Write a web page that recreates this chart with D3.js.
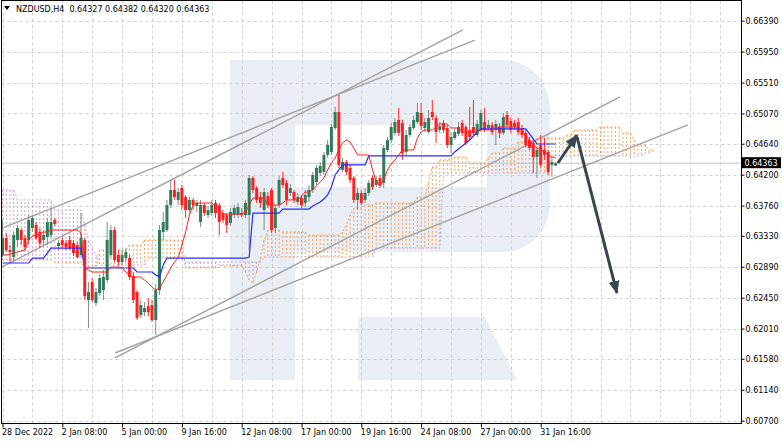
<!DOCTYPE html>
<html><head><meta charset="utf-8">
<script src="https://cdn.jsdelivr.net/npm/d3@7"></script>
<style>
body{margin:0;background:#fff;}
svg{display:block;font-family:"DejaVu Sans",Verdana,sans-serif;}
</style>
</head><body>
<svg id="c" width="782" height="442"></svg>
<script>
// ---------- data ----------
const symbolName = "NZDUSD,H4";
const lastQuote = [0.64327, 0.64382, 0.64320, 0.64363]; // O H L C of last bar
const priceTicks = [0.66390,0.65950,0.65510,0.65070,0.64640,0.64200,0.63760,0.63330,0.62890,0.62450,0.62010,0.61580,0.61140,0.60700];
const timeLabels = ["28 Dec 2022","2 Jan 08:00","5 Jan 00:00","9 Jan 16:00","12 Jan 08:00","17 Jan 00:00","19 Jan 16:00","24 Jan 08:00","27 Jan 00:00","31 Jan 16:00"];
const timeLabelBars = [0,16,32,48,64,80,96,112,128,144];

const open = [
0.63057,0.63299,0.63128,0.63028,0.63270,0.63412,0.63299,0.63270,0.63441,0.63484,
0.63384,0.63270,0.63313,0.63341,0.63555,0.63185,0.63270,0.63227,0.63270,0.63227,
0.63199,0.63057,0.63270,0.62416,0.62672,0.62373,0.62516,0.62558,0.62701,0.63057,
0.63412,0.63057,0.62957,0.63014,0.63014,0.62758,0.62530,0.62203,0.62245,0.62331,
0.62345,0.62132,0.62558,0.63384,0.63412,0.63768,0.63982,0.63840,0.64010,0.63882,
0.63697,0.63840,0.63754,0.63526,0.63768,0.63626,0.63654,0.63797,0.63768,0.63654,
0.63626,0.63512,0.63626,0.63626,0.63654,0.63626,0.63626,0.64153,0.64010,0.63882,
0.63697,0.63896,0.63982,0.63441,0.63768,0.64153,0.64082,0.63939,0.63953,0.63811,
0.63868,0.63797,0.63882,0.63982,0.64096,0.64224,0.64238,0.64480,0.64523,0.64864,
0.65091,0.64267,0.64380,0.64295,0.64153,0.63840,0.63939,0.63840,0.63939,0.64153,
0.64053,0.64153,0.64082,0.64551,0.64693,0.64793,0.64978,0.64935,0.64523,0.64764,
0.64864,0.64949,0.65077,0.64864,0.64807,0.65091,0.65006,0.64836,0.64935,0.64864,
0.64622,0.64722,0.64779,0.64935,0.64878,0.64836,0.64878,0.64764,0.64836,0.64949,
0.64864,0.64907,0.64836,0.64878,0.64793,0.65049,0.64964,0.64935,0.64949,0.64864,
0.64793,0.64693,0.64651,0.64452,0.64622,0.64551,0.64523,0.64338,0.64327];
const high = [
0.63555,0.63370,0.63199,0.63384,0.63484,0.63441,0.63341,0.63626,0.63612,0.63526,
0.63441,0.63412,0.63583,0.63726,0.63583,0.63270,0.63299,0.63270,0.63327,0.63270,
0.63242,0.63654,0.63299,0.62672,0.62729,0.62587,0.62786,0.62843,0.63526,0.63484,
0.63455,0.63128,0.63128,0.63156,0.63057,0.62815,0.62558,0.62416,0.62388,0.62445,
0.62416,0.62644,0.63484,0.63669,0.63840,0.64124,0.64124,0.64010,0.64053,0.63911,
0.63896,0.63868,0.63840,0.63840,0.63797,0.63754,0.63840,0.63840,0.63797,0.63697,
0.63654,0.63726,0.63768,0.63797,0.63726,0.63840,0.64195,0.64181,0.64039,0.63953,
0.64010,0.63953,0.64010,0.63768,0.64181,0.64238,0.64124,0.64067,0.63982,0.63939,
0.63911,0.63982,0.64053,0.64238,0.64338,0.64380,0.64523,0.64693,0.64921,0.65163,
0.65333,0.64437,0.64409,0.64338,0.64181,0.64010,0.63982,0.64010,0.64124,0.64195,
0.64181,0.64195,0.64622,0.64736,0.64935,0.65006,0.65148,0.64978,0.64836,0.64921,
0.65035,0.65219,0.65219,0.65006,0.65120,0.65262,0.65049,0.64949,0.64978,0.64907,
0.64807,0.64864,0.64949,0.64978,0.64907,0.65163,0.65262,0.64978,0.65120,0.65148,
0.64978,0.64949,0.64978,0.64935,0.65077,0.65106,0.65006,0.64978,0.65006,0.64907,
0.64836,0.64736,0.64693,0.64580,0.64764,0.64722,0.64551,0.64437,0.64382];
const low = [
0.63028,0.63099,0.62957,0.62957,0.63171,0.63199,0.63128,0.63199,0.63384,0.63270,
0.63156,0.63199,0.63199,0.63299,0.63469,0.63128,0.63156,0.63128,0.63128,0.63042,
0.63014,0.63028,0.62416,0.62018,0.62388,0.62331,0.62473,0.62416,0.62658,0.63014,
0.62957,0.62900,0.62914,0.62957,0.62701,0.62373,0.62132,0.62160,0.62188,0.62188,
0.62103,0.61919,0.62487,0.63270,0.63384,0.63726,0.63840,0.63768,0.63697,0.63583,
0.63640,0.63697,0.63669,0.63455,0.63612,0.63583,0.63612,0.63583,0.63341,0.63512,
0.63370,0.63469,0.63583,0.63583,0.63597,0.63583,0.63128,0.63939,0.63797,0.63726,
0.63412,0.63726,0.63370,0.63370,0.63726,0.64010,0.63768,0.63896,0.63797,0.63768,
0.63726,0.63740,0.63811,0.63939,0.64053,0.64181,0.64195,0.64437,0.64480,0.64836,
0.64295,0.64238,0.64195,0.64082,0.63797,0.63697,0.63768,0.63797,0.63896,0.63982,
0.64025,0.64010,0.64010,0.64523,0.64651,0.64750,0.64750,0.64409,0.64480,0.64736,
0.64836,0.64921,0.64836,0.64807,0.64779,0.64978,0.64651,0.64793,0.64793,0.64580,
0.64508,0.64693,0.64750,0.64750,0.64622,0.64693,0.64764,0.64736,0.64807,0.64807,
0.64836,0.64764,0.64622,0.64722,0.64764,0.64864,0.64793,0.64836,0.64764,0.64722,
0.64594,0.64551,0.64224,0.64153,0.64309,0.64409,0.64195,0.64167,0.64320];
const close = [
0.63299,0.63128,0.63099,0.63341,0.63441,0.63270,0.63171,0.63555,0.63583,0.63299,
0.63227,0.63341,0.63526,0.63526,0.63498,0.63227,0.63199,0.63171,0.63156,0.63085,
0.63028,0.63299,0.62473,0.62530,0.62416,0.62530,0.62729,0.62744,0.63270,0.63412,
0.62986,0.62957,0.63057,0.63099,0.62744,0.62416,0.62160,0.62345,0.62302,0.62245,
0.62132,0.62558,0.63412,0.63526,0.63768,0.63982,0.63882,0.63953,0.63768,0.63697,
0.63840,0.63768,0.63797,0.63768,0.63654,0.63697,0.63768,0.63654,0.63526,0.63555,
0.63484,0.63669,0.63726,0.63740,0.63626,0.63797,0.64153,0.63982,0.63840,0.63797,
0.63953,0.63768,0.63412,0.63726,0.64124,0.64053,0.63840,0.64010,0.63840,0.63882,
0.63768,0.63911,0.63982,0.64195,0.64295,0.64323,0.64480,0.64622,0.64878,0.65091,
0.64338,0.64380,0.64238,0.64124,0.63840,0.63939,0.63797,0.63939,0.64082,0.64025,
0.64124,0.64053,0.64580,0.64693,0.64878,0.64949,0.64793,0.64508,0.64764,0.64878,
0.64978,0.65091,0.64892,0.64949,0.65006,0.65020,0.64807,0.64892,0.64836,0.64622,
0.64736,0.64807,0.64878,0.64793,0.64651,0.64736,0.64793,0.64921,0.65077,0.64836,
0.64907,0.64807,0.64921,0.64793,0.65020,0.64907,0.64836,0.64878,0.64807,0.64764,
0.64622,0.64580,0.64452,0.64551,0.64338,0.64480,0.64238,0.64380,0.64363];

// Ichimoku: Tenkan-sen (red), Kijun-sen (blue)
const tenkan = [
0.63057,0.63057,0.63071,0.63085,0.63099,0.63114,0.63128,0.63270,0.63327,0.63341,
0.63356,0.63384,0.63384,0.63412,0.63412,0.63412,0.63412,0.63412,0.63412,0.63412,
0.63412,0.63370,0.62872,0.62843,0.62815,0.62815,0.62815,0.62815,0.62815,0.62886,
0.62886,0.62886,0.62872,0.62815,0.62772,0.62744,0.62744,0.62744,0.62701,0.62658,
0.62601,0.62558,0.62587,0.62672,0.62772,0.62872,0.62957,0.63014,0.63199,0.63384,
0.63626,0.63768,0.63797,0.63797,0.63797,0.63797,0.63797,0.63754,0.63697,0.63640,
0.63640,0.63640,0.63640,0.63640,0.63640,0.63669,0.63768,0.63868,0.63868,0.63868,
0.63868,0.63768,0.63768,0.63768,0.63768,0.63797,0.63840,0.63840,0.63840,0.63840,
0.63896,0.63953,0.63953,0.63982,0.64039,0.64096,0.64153,0.64267,0.64366,0.64437,
0.64551,0.64651,0.64693,0.64665,0.64580,0.64480,0.64480,0.64480,0.64480,0.64267,
0.64096,0.64039,0.64124,0.64267,0.64352,0.64409,0.64480,0.64551,0.64551,0.64551,
0.64551,0.64722,0.64807,0.64836,0.64836,0.64836,0.64878,0.64921,0.64921,0.64921,
0.64864,0.64864,0.64864,0.64807,0.64807,0.64807,0.64807,0.64807,0.64836,0.64836,
0.64836,0.64836,0.64878,0.64878,0.64878,0.64878,0.64878,0.64878,0.64878,0.64836,
0.64750,0.64693,0.64622,0.64580,0.64551,0.64523,0.64480,0.64452,0.64437];
const kijun = [
0.62943,0.62943,0.62943,0.62943,0.62943,0.62943,0.62943,0.62943,0.63014,0.63014,
0.63014,0.63014,0.63085,0.63156,0.63156,0.63156,0.63156,0.63156,0.63156,0.63156,
0.63156,0.63156,0.62872,0.62872,0.62872,0.62872,0.62872,0.62872,0.62872,0.62872,
0.62872,0.62872,0.62872,0.62872,0.62872,0.62872,0.62815,0.62815,0.62815,0.62815,
0.62815,0.62772,0.62744,0.62914,0.63014,0.63014,0.63014,0.63014,0.63014,0.63014,
0.63014,0.63014,0.63014,0.63014,0.63014,0.63014,0.63014,0.63014,0.63014,0.63014,
0.63014,0.63014,0.63014,0.63014,0.63014,0.63014,0.63028,0.63654,0.63654,0.63654,
0.63654,0.63654,0.63654,0.63654,0.63654,0.63711,0.63711,0.63711,0.63711,0.63711,
0.63711,0.63711,0.63711,0.63754,0.63783,0.63811,0.63854,0.63911,0.64025,0.64195,
0.64267,0.64338,0.64338,0.64338,0.64338,0.64338,0.64338,0.64338,0.64466,0.64466,
0.64466,0.64466,0.64466,0.64466,0.64466,0.64466,0.64466,0.64466,0.64466,0.64466,
0.64466,0.64466,0.64466,0.64466,0.64466,0.64466,0.64466,0.64466,0.64466,0.64466,
0.64466,0.64523,0.64565,0.64608,0.64651,0.64693,0.64750,0.64807,0.64850,0.64850,
0.64850,0.64850,0.64850,0.64850,0.64850,0.64850,0.64850,0.64850,0.64850,0.64850,
0.64850,0.64779,0.64708,0.64636,0.64636,0.64636,0.64636,0.64636,0.64636];
// Senkou spans (already shifted 26 bars forward)
const spanA = [
0.62986,0.62986,0.62986,0.62986,0.62986,0.62986,0.62986,0.62986,0.62986,0.62986,
0.62986,0.62986,0.62986,0.62986,0.62943,0.62943,0.62943,0.62943,0.62943,0.62943,
0.62943,0.62943,0.62886,0.62886,0.62886,0.62886,0.63128,0.63128,0.63128,0.63128,
0.63128,0.63128,0.63128,0.63128,0.63199,0.63199,0.63199,0.63199,0.63270,0.63270,
0.63270,0.63270,0.63270,0.63270,0.63270,0.63270,0.63270,0.63270,0.63270,0.62872,
0.62872,0.62872,0.62872,0.62872,0.62872,0.62872,0.62872,0.62872,0.62900,0.62900,
0.62900,0.62900,0.62900,0.62900,0.62900,0.62815,0.62701,0.62658,0.62815,0.63028,
0.63270,0.63412,0.63412,0.63412,0.63412,0.63384,0.63384,0.63384,0.63384,0.63384,
0.63384,0.63384,0.63341,0.63341,0.63341,0.63341,0.63341,0.63341,0.63341,0.63341,
0.63341,0.63384,0.63484,0.63626,0.63726,0.63726,0.63726,0.63768,0.63768,0.63768,
0.63797,0.63797,0.63797,0.63797,0.63797,0.63797,0.63797,0.63797,0.63797,0.63797,
0.63797,0.63882,0.63882,0.63882,0.64082,0.64309,0.64309,0.64409,0.64409,0.64409,
0.64409,0.64452,0.64452,0.64452,0.64452,0.64366,0.64366,0.64366,0.64366,0.64366,
0.64437,0.64508,0.64508,0.64508,0.64580,0.64580,0.64580,0.64580,0.64665,0.64665,
0.64665,0.64665,0.64665,0.64722,0.64722,0.64722,0.64722,0.64722,0.64722,0.64722,
0.64722,0.64764,0.64764,0.64836,0.64836,0.64836,0.64836,0.64836,0.64836,0.64836,
0.64878,0.64878,0.64878,0.64878,0.64878,0.64878,0.64793,0.64793,0.64793,0.64693,
0.64622,0.64622,0.64622,0.64551,0.64551];
const spanB = [
0.63982,0.63982,0.63982,0.63982,0.63840,0.63840,0.63840,0.63840,0.63840,0.63840,
0.63840,0.63840,0.63840,0.63840,0.63697,0.63697,0.63697,0.63697,0.63697,0.63697,
0.63697,0.63697,0.63484,0.63270,0.63156,0.63057,0.62914,0.62914,0.62914,0.62914,
0.62914,0.62914,0.62914,0.62914,0.62914,0.62914,0.62914,0.62914,0.62914,0.63014,
0.63014,0.63014,0.63014,0.63014,0.63014,0.63014,0.63014,0.63014,0.63014,0.62957,
0.62957,0.62957,0.62957,0.62957,0.62957,0.62957,0.62957,0.62957,0.62957,0.62957,
0.62957,0.62957,0.62957,0.62957,0.62957,0.62957,0.62957,0.62957,0.62957,0.62957,
0.63028,0.63028,0.63028,0.63028,0.63028,0.63028,0.63028,0.63028,0.63028,0.63028,
0.63028,0.63028,0.63028,0.63028,0.63028,0.63028,0.63028,0.63028,0.63028,0.63028,
0.63028,0.63028,0.63028,0.63028,0.63028,0.63028,0.63028,0.63028,0.63028,0.63028,
0.63156,0.63156,0.63156,0.63156,0.63156,0.63156,0.63156,0.63156,0.63156,0.63156,
0.63156,0.63156,0.63156,0.63156,0.63156,0.63156,0.63156,0.63156,0.64224,0.64224,
0.64224,0.64224,0.64224,0.64224,0.64224,0.64224,0.64224,0.64224,0.64224,0.64224,
0.64224,0.64224,0.64224,0.64224,0.64224,0.64224,0.64224,0.64224,0.64224,0.64224,
0.64224,0.64224,0.64224,0.64224,0.64224,0.64224,0.64224,0.64466,0.64466,0.64466,
0.64466,0.64466,0.64466,0.64466,0.64466,0.64466,0.64466,0.64466,0.64466,0.64466,
0.64466,0.64466,0.64466,0.64466,0.64466,0.64466,0.64466,0.64466,0.64466,0.64466,
0.64466,0.64466,0.64508,0.64508,0.64508];

// drawn objects, as [bar index, price] end points
const trendLines = [
  [[-0.67,0.63427],[126.4,0.66115]],
  [[-0.67,0.62872],[123.2,0.66258]],
  [[30.1,0.61592],[165.2,0.65305]],
  [[30.1,0.61663],[183.4,0.64907]]
];
const arrows = [
  [[148.6,0.64366],[153.7,0.64764]],
  [[153.7,0.64736],[164.4,0.62516]]
];

// ---------- layout ----------
const W = 782, H = 442;
const plotL = 1.5, plotT = 0.5, plotR = 741.5, plotB = 423.5;
const x = d3.scaleLinear().domain([0, 200]).range([2.5, 2.5 + 3.7375 * 200]);
const y = d3.scaleLinear().domain([0.60700, 0.66390]).range([420.7, 20.7]);

const svg = d3.select("#c");
svg.append("rect").attr("width", W).attr("height", H).attr("fill", "#fff");

const defs = svg.append("defs");
defs.append("clipPath").attr("id", "plot").append("rect")
  .attr("x", plotL).attr("y", plotT).attr("width", plotR - plotL).attr("height", plotB - plotT);
defs.append("marker").attr("id", "ah").attr("viewBox", "0 -6 14 12")
  .attr("refX", 12).attr("refY", 0).attr("markerWidth", 14).attr("markerHeight", 12)
  .attr("markerUnits", "userSpaceOnUse").attr("orient", "auto")
  .append("path").attr("d", "M0,-5.5L13,0L0,5.5Z").attr("fill", "#37474f");

const g = svg.append("g").attr("clip-path", "url(#plot)");

// watermark logo (background decoration)
g.append("path")
  .attr("d", "M230,60H502C530,60 550,82 550,110V202C550,230 530,252 502,252H295V380H230Z M295,125H487V187H295Z M358,317H485L517,380H358Z")
  .attr("fill", "#e9edf4").attr("fill-rule", "evenodd");

// grid
const gridBars = d3.range(0, 200, 8);
g.append("g").selectAll("line").data(priceTicks).join("line")
  .attr("x1", plotL).attr("x2", plotR).attr("y1", d => Math.round(y(d)) + 0.5).attr("y2", d => Math.round(y(d)) + 0.5)
  .attr("stroke", "#cfcfcf").attr("stroke-width", 1).attr("stroke-dasharray", "3,3");
g.append("g").selectAll("line").data(gridBars).join("line")
  .attr("x1", d => Math.round(x(d)) + 0.5).attr("x2", d => Math.round(x(d)) + 0.5).attr("y1", plotT).attr("y2", plotB)
  .attr("stroke", "#cfcfcf").attr("stroke-width", 1).attr("stroke-dasharray", "3,3");

// cloud hatch
const bullCloud = "#f4a460", bearCloud = "#cfa3cf";
const idx = d3.range(spanA.length);
g.append("g").selectAll("line").data(idx).join("line")
  .attr("x1", j => x(j)).attr("x2", j => x(j))
  .attr("y1", j => y(spanA[j])).attr("y2", j => y(spanB[j]))
  .attr("stroke", j => spanA[j] >= spanB[j] ? bullCloud : bearCloud)
  .attr("stroke-width", 1).attr("stroke-dasharray", "2,2");
const line = d3.line().x((d, i) => x(i)).y(d => y(d));
g.append("path").attr("d", line(spanA)).attr("fill", "none").attr("stroke", bullCloud).attr("stroke-width", 1).attr("stroke-dasharray", "2,2");
g.append("path").attr("d", line(spanB)).attr("fill", "none").attr("stroke", bearCloud).attr("stroke-width", 1).attr("stroke-dasharray", "2,2");

// current price line
g.append("line").attr("x1", plotL).attr("x2", plotR)
  .attr("y1", y(lastQuote[3])).attr("y2", y(lastQuote[3]))
  .attr("stroke", "#c4c4c4").attr("stroke-width", 1);

// trend lines
g.append("g").selectAll("line").data(trendLines).join("line")
  .attr("x1", d => x(d[0][0])).attr("y1", d => y(d[0][1]))
  .attr("x2", d => x(d[1][0])).attr("y2", d => y(d[1][1]))
  .attr("stroke", "#a3a3a3").attr("stroke-width", 1.4);

// candles
const bars = d3.range(close.length);
const cg = g.append("g");
cg.selectAll("line.w").data(bars).join("line").attr("class", "w")
  .attr("x1", i => x(i)).attr("x2", i => x(i))
  .attr("y1", i => y(high[i])).attr("y2", i => y(low[i]))
  .attr("stroke", i => close[i] >= open[i] ? "#7a8f86" : "#ff2a2a").attr("stroke-width", 1);
cg.selectAll("rect").data(bars).join("rect")
  .attr("x", i => x(i) - 1.5).attr("width", 3)
  .attr("y", i => Math.min(y(open[i]), y(close[i])))
  .attr("height", i => Math.max(1, Math.abs(y(open[i]) - y(close[i]))))
  .attr("fill", i => close[i] >= open[i] ? "#337a5a" : "#ff1f1f");

// tenkan / kijun
g.append("path").attr("d", line(kijun)).attr("fill", "none").attr("stroke", "#2a2aff").attr("stroke-width", 1.2);
g.append("path").attr("d", line(tenkan)).attr("fill", "none").attr("stroke", "#ff2020").attr("stroke-width", 1);

// arrows
g.append("g").selectAll("line").data(arrows).join("line")
  .attr("x1", d => x(d[0][0])).attr("y1", d => y(d[0][1]))
  .attr("x2", d => x(d[1][0])).attr("y2", d => y(d[1][1]))
  .attr("stroke", "#37474f").attr("stroke-width", 3).attr("marker-end", "url(#ah)");

// frame
svg.append("rect").attr("x", plotL).attr("y", plotT).attr("width", plotR - plotL).attr("height", plotB - plotT)
  .attr("fill", "none").attr("stroke", "#000").attr("stroke-width", 1);

// price axis
const ya = svg.append("g").attr("transform", `translate(${plotR},0)`)
  .call(d3.axisRight(y).tickValues(priceTicks).tickSize(3).tickPadding(1).tickFormat(d3.format(".5f")));
ya.select(".domain").remove();
ya.selectAll("text").attr("font-size", 8).attr("font-family", "DejaVu Sans").attr("fill", "#000");

// time axis
const xa = svg.append("g").attr("transform", `translate(0,${plotB})`)
  .call(d3.axisBottom(x).tickValues(timeLabelBars).tickSize(4).tickPadding(2).tickFormat((d, i) => timeLabels[i]));
xa.select(".domain").remove();
xa.selectAll("text").attr("text-anchor", "start").attr("dx", -1).attr("font-size", 8).attr("font-family", "DejaVu Sans").attr("fill", "#000");

// current price label
const py = y(lastQuote[3]);
svg.append("rect").attr("x", plotR + 0.5).attr("y", py - 6).attr("width", 39).attr("height", 11).attr("fill", "#000");
svg.append("text").attr("x", plotR + 3).attr("y", py + 3).attr("font-size", 8).attr("fill", "#fff")
  .text(d3.format(".5f")(lastQuote[3]));

// header
svg.append("path").attr("d", "M4,6H10L7,10Z").attr("fill", "#000");
svg.append("text").attr("x", 16).attr("y", 11.5).attr("font-size", 8).attr("fill", "#000")
  .style("white-space", "pre")
  .text(symbolName + "  " + lastQuote.map(d3.format(".5f")).join(" "));
</script>
</body></html>
